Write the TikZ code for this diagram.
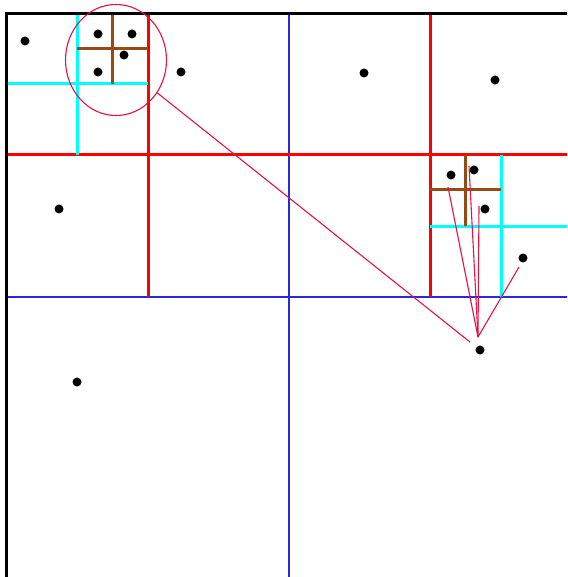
\documentclass[tikz,border=0pt]{standalone}
\usepackage{tikz}
\usetikzlibrary{shapes.geometric}
\definecolor{crim}{RGB}{225,20,70}
\definecolor{rust}{RGB}{150,75,20}
\definecolor{aqua}{RGB}{0,255,255}
\definecolor{lineblue}{RGB}{40,40,225}
\definecolor{linered}{RGB}{255,0,0}

\begin{document}
\begin{tikzpicture}[x=1pt, y=-1pt,
    dot/.style={circle, fill=black, inner sep=0pt, minimum size=9pt},
    lvlone/.style={draw=lineblue, line width=1.3pt},
    lvltwo/.style={draw=linered, line width=3pt},
    lvlthree/.style={draw=aqua, line width=3pt},
    lvlfour/.style={draw=rust, line width=3pt},
    link/.style={draw=crim, line width=1.1pt}
]
\useasboundingbox (0,0) rectangle (567,577);
\clip (0,0) rectangle (567,577);

% --- PARAMETER ---
\def\lo{6}     % linker Rand
\def\tp{14}    % oberer Rand
\def\hi{572}   % rechter Rand
\def\bt{580}   % unterer Rand

% --- EBENE 1 ---
\draw[lvlone] (289,\tp) -- (289,\bt);
\draw[lvlone] (\lo,297) -- (\hi,297);

% --- EBENE 2 ---
\draw[lvltwo] (148,\tp) -- (148,297);
\draw[lvltwo] (430,\tp) -- (430,297);
\draw[lvltwo] (\lo,155) -- (\hi,155);

% --- EBENE 3 ---
\draw[lvlthree] (77,\tp) -- (77,155);
\draw[lvlthree] (\lo,84) -- (148,84);
\draw[lvlthree] (501,155) -- (501,297);
\draw[lvlthree] (430,226) -- (\hi,226);

% --- EBENE 4 ---
\draw[lvlfour] (112,\tp) -- (112,84);
\draw[lvlfour] (77,49) -- (148,49);
\draw[lvlfour] (465,155) -- (465,226);
\draw[lvlfour] (430,190) -- (501,190);

% Rahmen
\draw[line width=3pt] (\lo,\tp) rectangle (\hi,\bt);

% --- PUNKTE ---
\node[dot] (p1) at (25,41) {};
\node[dot] (p2) at (98,34) {};
\node[dot] (p3) at (132,34) {};
\node[dot] (p4) at (124,55) {};
\node[dot] (p5) at (98,72) {};
\node[dot] (p6) at (181,72) {};
\node[dot] (p7) at (364,73) {};
\node[dot] (p8) at (495,80) {};
\node[dot] (p9) at (59,209) {};
\node[dot] (p10) at (451,175) {};
\node[dot] (p11) at (474,170) {};
\node[dot] (p12) at (485,209) {};
\node[dot] (p13) at (523,258) {};
\node[dot] (p14) at (77,382) {};
\node[dot] (q) at (480,350) {};

% --- SUCHE ---
\node[ellipse, draw=crim, line width=1.1pt, inner sep=0pt,
      minimum width=101pt, minimum height=111pt] (ring) at (116,60) {};
\draw[link, shorten >=8pt] (ring) -- (q);

\coordinate (apex) at (478,337);
\coordinate (e1) at (448,187);
\coordinate (e2) at (469,166);
\coordinate (e3) at (479,206);
\coordinate (e4) at (519,267);
\draw[link] (apex) -- (e1);
\draw[link] (apex) -- (e2);
\draw[link] (apex) -- (e3);
\draw[link] (apex) -- (e4);
\end{tikzpicture}
\end{document}
